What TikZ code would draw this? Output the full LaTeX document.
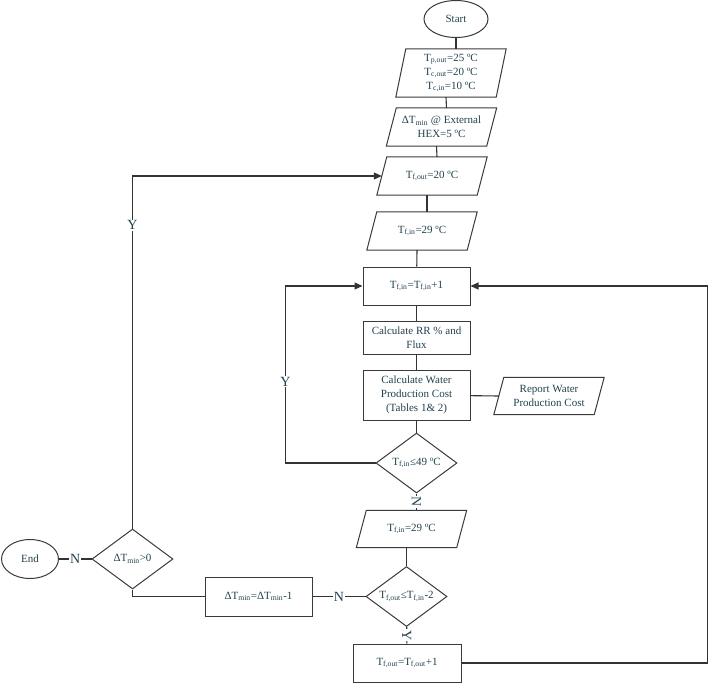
\documentclass[tikz,border=0pt]{standalone}
\usepackage{fontspec}
\setmainfont{Liberation Serif}
\usetikzlibrary{arrows.meta,shapes.geometric,positioning}
\definecolor{txt}{HTML}{22414D}
\definecolor{edgecol}{HTML}{333333}
\definecolor{boxcol}{HTML}{3A3A3A}
\newcommand\ioslant{5pt}

\begin{document}
\begin{tikzpicture}[x=1pt,y=-1pt,
  every node/.style={text=txt,font=\fontsize{11}{14}\selectfont},
  boxline/.style={draw=boxcol,line width=1pt},
  proc/.style={boxline,rectangle,inner sep=0pt,minimum width=107pt,align=center},
  io/.style={rectangle,inner sep=0pt,minimum width=100pt,align=center,
    append after command={\pgfextra{\pgfinterruptpath
      \draw[boxline] ([xshift=-\ioslant]\tikzlastnode.south west) -- ([xshift=-\ioslant]\tikzlastnode.south east)
        -- ([xshift=\ioslant]\tikzlastnode.north east) -- ([xshift=\ioslant]\tikzlastnode.north west) -- cycle;
      \endpgfinterruptpath}}},
  term/.style={boxline,ellipse,inner sep=0pt},
  decision/.style={boxline,diamond,aspect=1.35,inner sep=0pt,minimum width=81pt,minimum height=60pt},
  lbl/.style={fill=white,inner sep=1pt,font=\fontsize{14}{16}\selectfont},
  flow/.style={draw=edgecol,line width=1.1pt},
  flowarr/.style={-{Triangle[length=8pt,width=7pt]}}]
\useasboundingbox (0,0) rectangle (709,688);
\node[term,minimum width=64pt,minimum height=37pt] (start) at (456,19) {Start};
\node[io,minimum height=48pt] (in1) at (451,73) {T\textsubscript{p,out}=25 ºC\\T\textsubscript{c,out}=20 ºC\\T\textsubscript{c,in}=10 ºC};
\node[io,minimum height=38pt] (in2) at (441.5,127) {ΔT\textsubscript{min} @ External\\HEX=5 ºC};
\node[io,minimum height=38pt] (tfout) at (432,176) {T\textsubscript{f,out}=20 ºC};
\node[io,minimum height=38pt] (tfin) at (422,231) {T\textsubscript{f,in}=29 ºC};
\node[proc,minimum height=38pt] (inc) at (416.5,286) {T\textsubscript{f,in}=T\textsubscript{f,in}+1};
\node[proc,minimum height=33pt] (calc) at (416.5,338) {Calculate RR \% and\\Flux};
\node[proc,minimum height=50pt] (cost) at (416.5,395) {Calculate Water\\Production Cost\\(Tables 1\& 2)};
\node[io,minimum height=37pt] (report) at (549,396) {Report Water\\Production Cost};
\node[decision] (chk1) at (416.5,463) {T\textsubscript{f,in}≤49 ºC};
\node[io,minimum height=37pt] (tfin2) at (411.5,529) {T\textsubscript{f,in}=29 ºC};
\node[decision] (chk2) at (406.5,596.5) {T\textsubscript{f,out}≤T\textsubscript{f,in}-2};
\node[proc,minimum height=38pt,minimum width=108pt] (incout) at (407,663) {T\textsubscript{f,out}=T\textsubscript{f,out}+1};
\node[proc,minimum height=39pt] (dec) at (258.5,596.5) {ΔT\textsubscript{min}=ΔT\textsubscript{min}-1};
\node[decision] (chk3) at (132.5,559) {ΔT\textsubscript{min}>0};
\node[term,minimum width=57pt,minimum height=39pt] (end) at (30,559) {End};
\path[flow]
(start) edge ([xshift=\ioslant]in1.north)
([xshift=-\ioslant]in1.south) edge ([xshift=\ioslant]in2.north)
([xshift=-\ioslant]in2.south) edge ([xshift=\ioslant]tfout.north)
([xshift=-\ioslant]tfout.south) edge ([xshift=\ioslant]tfin.north)
([xshift=-\ioslant]tfin.south) edge (inc)
(inc) edge (calc)
(calc) edge (cost)
(cost) edge (report.west)
(cost) edge (chk1)
(chk1) edge node[lbl,rotate=-90] {N} ([xshift=\ioslant]tfin2.north)
([xshift=-\ioslant]tfin2.south) edge (chk2)
(chk2) edge node[lbl,rotate=-90] {Y} (incout)
(chk2) edge node[lbl] {N} (dec)
(chk3) edge node[lbl] {N} (end);
% loops back
\draw[flow,flowarr] (chk3.north) |- node[lbl,pos=0.43] {Y} (tfout.west);
\draw[flow,flowarr] (chk1.west) -- ++(-90,0) |- node[lbl,pos=0.23] {Y} (inc.west);
\draw[flow,flowarr] (incout.east) -- ++(246,0) |- (inc.east);
\draw[flow] (dec.west) -| (chk3.south);
\end{tikzpicture}
\end{document}
